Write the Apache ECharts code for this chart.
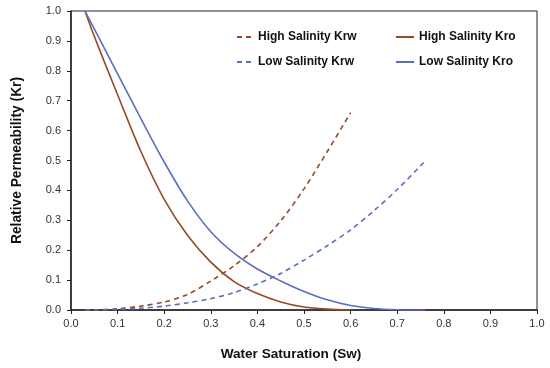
<!DOCTYPE html>
<html>
<head>
<meta charset="utf-8">
<script src="https://cdn.jsdelivr.net/npm/echarts@6/dist/echarts.min.js"></script>
<style>html,body{margin:0;padding:0;background:#fff}#c{width:550px;height:368px}</style>
</head>
<body>
<div id="c"></div>
<script>
var xTicks = [0, 0.1, 0.2, 0.3, 0.4, 0.5, 0.6, 0.7, 0.8, 0.9, 1.0];
var yTicks = [0, 0.1, 0.2, 0.3, 0.4, 0.5, 0.6, 0.7, 0.8, 0.9, 1.0];

var swHigh = [0.03, 0.05, 0.1, 0.15, 0.2, 0.25, 0.3, 0.35, 0.4, 0.45, 0.5, 0.55, 0.6];
var highKrw = [0, 0.0003, 0.004, 0.013, 0.027, 0.052, 0.097, 0.148, 0.212, 0.298, 0.405, 0.53, 0.66];
var highKro = [1.0, 0.915, 0.72, 0.53, 0.37, 0.25, 0.16, 0.095, 0.055, 0.027, 0.01, 0.003, 0];

var swLow = [0.03, 0.05, 0.1, 0.15, 0.2, 0.25, 0.3, 0.35, 0.4, 0.45, 0.5, 0.55, 0.6, 0.65, 0.7, 0.75, 0.76];
var lowKrw = [0, 0.0002, 0.002, 0.006, 0.013, 0.024, 0.038, 0.058, 0.087, 0.122, 0.167, 0.215, 0.268, 0.332, 0.403, 0.482, 0.499];
var lowKro = [1.0, 0.94, 0.79, 0.64, 0.495, 0.365, 0.262, 0.19, 0.137, 0.097, 0.062, 0.034, 0.015, 0.005, 0.001, 0, 0];

var names = ['High Salinity Krw', 'High Salinity Kro', 'Low Salinity Krw', 'Low Salinity Kro'];
var brown = '#974a25';
var blue = '#5a6fc4';

function pairs(xs, ys) { return xs.map(function (x, i) { return [x, ys[i]]; }); }

var font = 'Liberation Sans, Arial, sans-serif';
var chart = echarts.init(document.getElementById('c'), null, { renderer: 'canvas' });

function mkSeries(name, xs, ys, color, dashed) {
  return {
    name: name, type: 'line', data: pairs(xs, ys), smooth: 0.3,
    symbol: 'none', showSymbol: false,
    lineStyle: { color: color, width: 1.6, type: dashed ? [5, 4] : 'solid' },
    itemStyle: { color: color }, z: 3
  };
}

var legendText = { fontFamily: font, fontSize: 12, fontWeight: 'bold', color: '#111' };

chart.setOption({
  animation: false,
  backgroundColor: '#fff',
  grid: { left: 71, right: 13, top: 11, bottom: 58, show: true, borderColor: '#222', borderWidth: 1 },
  legend: [
    { orient: 'vertical', data: [names[0], names[2]], left: 231, top: 26,
      itemWidth: 16, itemHeight: 14, itemGap: 13, selectedMode: false,
      itemStyle: { opacity: 0 }, textStyle: legendText },
    { orient: 'vertical', data: [names[1], names[3]], left: 390, top: 26,
      itemWidth: 18, itemHeight: 14, itemGap: 13, selectedMode: false,
      itemStyle: { opacity: 0 }, textStyle: legendText }
  ],
  xAxis: {
    type: 'value', min: 0, max: 1, interval: 0.1,
    name: 'Water Saturation (Sw)', nameLocation: 'middle', nameGap: 37,
    nameTextStyle: { fontFamily: font, fontSize: 13.6, fontWeight: 'bold', color: '#111', padding: [0, 26, 0, 0] },
    axisLine: { show: true, lineStyle: { color: '#222', width: 1.5 } },
    axisTick: { show: true, length: 4, inside: false, lineStyle: { color: '#222' } },
    axisLabel: { fontFamily: font, fontSize: 11, color: '#333', margin: 8,
      formatter: function (v) { return v.toFixed(1); } },
    splitLine: { show: false }
  },
  yAxis: {
    type: 'value', min: 0, max: 1, interval: 0.1,
    name: 'Relative Permeability (Kr)', nameLocation: 'middle', nameGap: 47,
    nameTextStyle: { fontFamily: font, fontSize: 13.8, fontWeight: 'bold', color: '#111' },
    axisLine: { show: true, lineStyle: { color: '#222', width: 1.5 } },
    axisTick: { show: true, length: 4, inside: false, lineStyle: { color: '#222' } },
    axisLabel: { fontFamily: font, fontSize: 11, color: '#333', margin: 10,
      formatter: function (v) { return v.toFixed(1); } },
    splitLine: { show: false }
  },
  series: [
    mkSeries(names[0], swHigh, highKrw, brown, true),
    mkSeries(names[1], swHigh, highKro, brown, false),
    mkSeries(names[2], swLow, lowKrw, blue, true),
    mkSeries(names[3], swLow, lowKro, blue, false)
  ]
});
</script>
</body>
</html>
